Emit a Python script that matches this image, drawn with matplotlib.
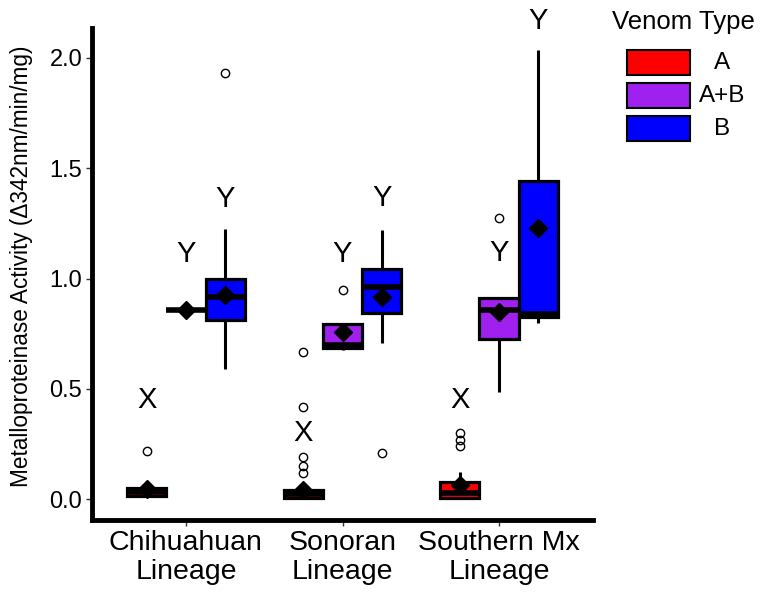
import matplotlib.pyplot as plt
from matplotlib.patches import Rectangle

plt.rcParams["font.family"] = ["Liberation Sans", "DejaVu Sans"]

lineages = ["Chihuahuan\nLineage", "Sonoran\nLineage", "Southern Mx\nLineage"]
venom_types = ["A", "A+B", "B"]
colors = {"A": "#FF0000", "A+B": "#A020F0", "B": "#0000FF"}

# per venom type, one entry per lineage
q1 = {"A": [0.015, 0.005, 0.005], "A+B": [0.855, 0.685, 0.725], "B": [0.810, 0.845, 0.825]}
med = {"A": [0.033, 0.022, 0.027], "A+B": [0.855, 0.700, 0.857], "B": [0.915, 0.962, 0.840]}
q3 = {"A": [0.052, 0.041, 0.077], "A+B": [0.855, 0.795, 0.910], "B": [1.000, 1.045, 1.440]}
whislo = {"A": [0.010, 0.003, 0.003], "A+B": [0.855, 0.675, 0.485], "B": [0.590, 0.707, 0.800]}
whishi = {"A": [0.070, 0.070, 0.122], "A+B": [0.855, 0.800, 0.910], "B": [1.225, 1.220, 2.035]}
means = {"A": [0.045, 0.040, 0.063], "A+B": [0.855, 0.757, 0.848], "B": [0.925, 0.916, 1.230]}
outliers = {
    "A": [[0.218], [0.118, 0.150, 0.190, 0.418, 0.667], [0.240, 0.270, 0.300]],
    "A+B": [[], [0.948], [1.275]],
    "B": [[1.930], [0.210], []],
}

# significance letters above each box
letters = {"A": ["X", "X", "X"], "A+B": ["Y", "Y", "Y"], "B": ["Y", "Y", "Y"]}
letter_y = {"A": [0.45, 0.30, 0.45], "A+B": [1.11, 1.11, 1.115], "B": [1.36, 1.365, 2.17]}

dodge = {"A": -0.25, "A+B": 0.0, "B": 0.25}
box_w = 0.25

fig = plt.figure(figsize=(7.65, 5.95), dpi=100)
ax = fig.add_axes([92 / 765, 1 - 520 / 595, (593 - 92) / 765, (520 - 28) / 595])

for vt in venom_types:
    stats = []
    pos = []
    for i in range(len(lineages)):
        stats.append(dict(med=med[vt][i], q1=q1[vt][i], q3=q3[vt][i],
                          whislo=whislo[vt][i], whishi=whishi[vt][i],
                          mean=means[vt][i], fliers=outliers[vt][i]))
        pos.append(i + 1 + dodge[vt])
    ax.bxp(stats, positions=pos, widths=box_w, patch_artist=True,
           showcaps=False, showmeans=True, manage_ticks=False,
           boxprops=dict(facecolor=colors[vt], edgecolor="black", linewidth=2.3),
           whiskerprops=dict(color="black", linewidth=2.2, solid_capstyle="butt"),
           medianprops=dict(color="black", linewidth=4, solid_capstyle="butt"),
           meanprops=dict(marker="D", markerfacecolor="black", markeredgecolor="black",
                          markersize=9),
           flierprops=dict(marker="o", markerfacecolor="none", markeredgecolor="black",
                           markersize=6, markeredgewidth=1))
    for i in range(len(lineages)):
        ax.text(i + 1 + dodge[vt], letter_y[vt][i], letters[vt][i], fontsize=21,
                ha="center", va="center", clip_on=False)

ax.set_xlim(0.4, 3.6)
ax.set_ylim(-0.095, 2.136)
ax.set_xticks([1, 2, 3])
ax.set_xticklabels(lineages, fontsize=20.5, linespacing=1.17)
ax.set_yticks([0.0, 0.5, 1.0, 1.5, 2.0])
ax.set_yticklabels(["0.0", "0.5", "1.0", "1.5", "2.0"], fontsize=17)
ax.tick_params(axis="both", length=4, width=1, color="#333333", pad=3)
ax.set_ylabel("Metalloproteinase Activity (\u0394342nm/min/mg)", fontsize=16.3)
ax.yaxis.set_label_coords(-0.118, 0.515)

for s in ["top", "right"]:
    ax.spines[s].set_visible(False)
for s in ["left", "bottom"]:
    ax.spines[s].set_linewidth(3.5)
    ax.spines[s].set_capstyle("projecting")

# legend drawn in pixel space on the right
lax = fig.add_axes([0, 0, 1, 1], facecolor="none")
lax.set_xlim(0, 765)
lax.set_ylim(595, 0)
lax.axis("off")
lax.text(612, 22, "Venom Type", fontsize=18.5, ha="left", va="center")
for k, vt in enumerate(venom_types):
    top = 50 + k * 33
    lax.add_patch(Rectangle((627, top), 63, 25, facecolor=colors[vt],
                            edgecolor="black", linewidth=1.5))
    lax.text(722, top + 13, vt, fontsize=17.5, ha="center", va="center")

fig.savefig("out.png", dpi=100)
